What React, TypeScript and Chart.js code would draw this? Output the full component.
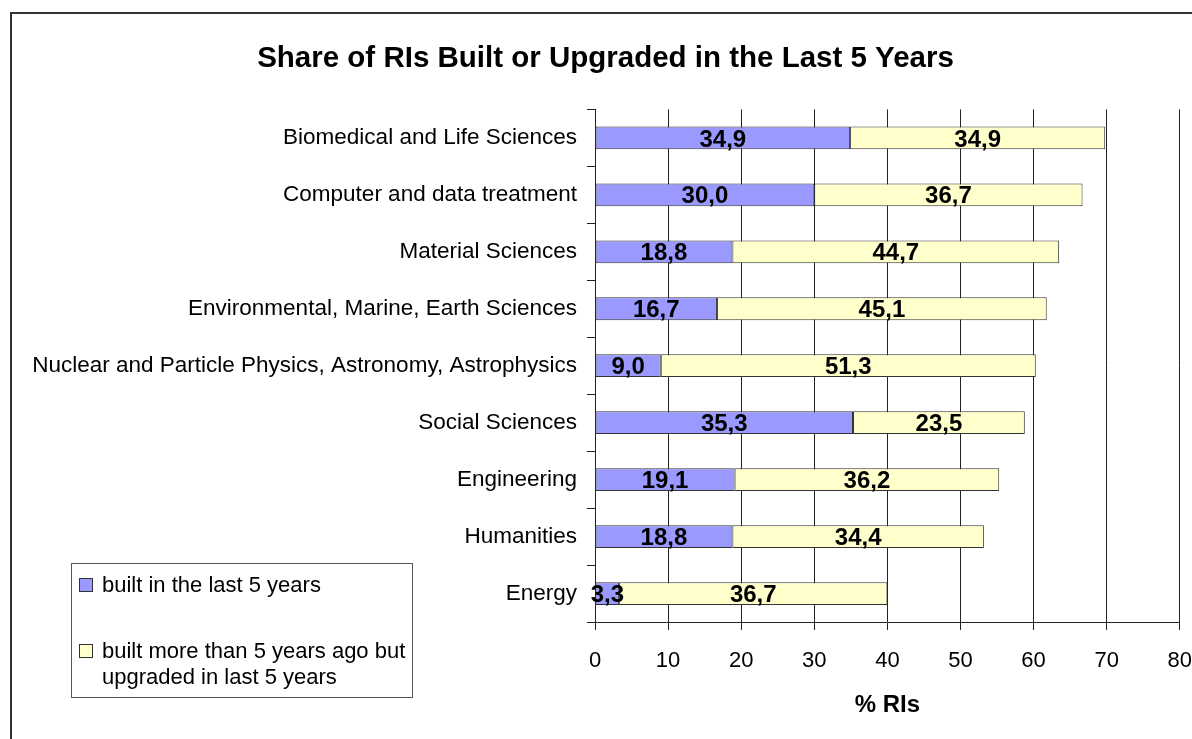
import React, { useEffect, useRef } from "react";
import { Chart, registerables } from "chart.js";

Chart.register(...registerables);

const chartTitle = "Share of RIs Built or Upgraded in the Last 5 Years";
const xAxisTitle = "% RIs";
const categories = [
  "Biomedical and Life Sciences",
  "Computer and data treatment",
  "Material Sciences",
  "Environmental, Marine, Earth Sciences",
  "Nuclear and Particle Physics, Astronomy, Astrophysics",
  "Social Sciences",
  "Engineering",
  "Humanities",
  "Energy",
];
const builtLast5 = [34.9, 30.0, 18.8, 16.7, 9.0, 35.3, 19.1, 18.8, 3.3];
const upgradedLast5 = [34.9, 36.7, 44.7, 45.1, 51.3, 23.5, 36.2, 34.4, 36.7];
const seriesNames = [
  "built in the last 5 years",
  "built more than 5 years ago but upgraded in last 5 years",
];
const legendLines = [
  ["built in the last 5 years"],
  ["built more than 5 years ago but", "upgraded in last 5 years"],
];
const xMin = 0;
const xMax = 80;
const xStep = 10;

const FONT = "'Liberation Sans', Arial, Helvetica, sans-serif";
const BLUE = "#9999FF";
const YELLOW = "#FFFFCC";
const EDGE = "#333333";

const W = 1210;
const H = 739;

const framePlugin = {
  id: "frame",
  beforeDraw(chart: any) {
    const ctx = chart.ctx;
    ctx.save();
    ctx.fillStyle = "#ffffff";
    ctx.fillRect(0, 0, chart.width, chart.height);
    ctx.strokeStyle = "#333333";
    ctx.lineWidth = 2;
    ctx.strokeRect(11, 13, chart.width + 20, chart.height + 20);
    ctx.restore();
  },
};

const valueLabelPlugin = {
  id: "valueLabels",
  afterDatasetsDraw(chart: any) {
    const ctx = chart.ctx;
    ctx.save();
    ctx.font = `bold 24px ${FONT}`;
    ctx.fillStyle = "#000";
    ctx.textAlign = "center";
    ctx.textBaseline = "middle";
    chart.data.datasets.forEach((ds: any, di: number) => {
      const meta = chart.getDatasetMeta(di);
      meta.data.forEach((bar: any, i: number) => {
        const v = ds.data[i];
        const cx = (bar.x + bar.base) / 2;
        ctx.fillText(v.toFixed(1).replace(".", ","), cx, bar.y + 2);
      });
    });
    ctx.restore();
  },
};

const legendBoxPlugin = {
  id: "legendBox",
  afterDraw(chart: any) {
    const ctx = chart.ctx;
    ctx.save();
    ctx.strokeStyle = "#555555";
    ctx.lineWidth = 1;
    ctx.strokeRect(71.5, 563.5, 341, 134);
    const colors = [BLUE, YELLOW];
    const firstY = [585, 651];
    ctx.font = `22px ${FONT}`;
    ctx.fillStyle = "#000";
    ctx.textAlign = "left";
    ctx.textBaseline = "middle";
    legendLines.forEach((lines, i) => {
      const y = firstY[i];
      ctx.fillStyle = colors[i];
      ctx.fillRect(79.5, y - 6.5, 13, 13);
      ctx.strokeStyle = EDGE;
      ctx.strokeRect(79.5, y - 6.5, 13, 13);
      ctx.fillStyle = "#000";
      lines.forEach((t, j) => {
        ctx.fillText(t, 102, y + 1 + j * 26);
      });
    });
    ctx.restore();
  },
};

export default function App() {
  const ref = useRef<HTMLCanvasElement | null>(null);

  useEffect(() => {
    if (!ref.current) return;
    Chart.defaults.font.family = FONT;
    Chart.defaults.color = "#000";
    const chart = new Chart(ref.current, {
      type: "bar",
      data: {
        labels: categories,
        datasets: [
          {
            label: seriesNames[0],
            data: builtLast5,
            backgroundColor: BLUE,
            borderColor: EDGE,
            borderWidth: 1,
            borderSkipped: false,
            barPercentage: 0.4,
            categoryPercentage: 1,
          },
          {
            label: seriesNames[1],
            data: upgradedLast5,
            backgroundColor: YELLOW,
            borderColor: EDGE,
            borderWidth: 1,
            borderSkipped: false,
            barPercentage: 0.4,
            categoryPercentage: 1,
          },
        ],
      },
      options: {
        indexAxis: "y",
        responsive: false,
        animation: false,
        devicePixelRatio: 1,
        layout: { padding: { left: 30, right: W - 1181, top: 0, bottom: 0 } },
        plugins: {
          legend: { display: false },
          tooltip: { enabled: false },
          title: {
            display: true,
            text: chartTitle,
            color: "#000",
            font: { size: 29.5, weight: "bold", family: FONT },
            padding: { top: 41, bottom: 33 },
          },
        },
        scales: {
          x: {
            stacked: true,
            min: xMin,
            max: xMax,
            ticks: {
              stepSize: xStep,
              color: "#000",
              font: { size: 22, family: FONT },
              padding: 18,
              maxRotation: 0,
            },
            grid: {
              color: "#222",
              lineWidth: 1,
              drawTicks: true,
              tickLength: 8,
              tickColor: "#222",
            },
            border: { display: true, color: "#222", width: 1 },
            title: {
              display: true,
              text: xAxisTitle,
              color: "#000",
              font: { size: 24, weight: "bold", family: FONT },
              padding: { top: 0, bottom: 19 },
            },
            afterFit(scale: any) {
              scale.height = H - 622;
            },
          },
          y: {
            stacked: true,
            ticks: {
              color: "#000",
              font: { size: 22.5, family: FONT },
              padding: 10,
            },
            grid: {
              offset: true,
              drawOnChartArea: false,
              drawTicks: true,
              tickLength: 8,
              color: "#222",
              tickColor: "#222",
            },
            border: { display: true, color: "#222", width: 1 },
            afterFit(scale: any) {
              scale.width = 565;
            },
          },
        },
      },
      plugins: [framePlugin, valueLabelPlugin, legendBoxPlugin],
    } as any);
    return () => chart.destroy();
  }, []);

  return (
    <div
      style={{
        position: "absolute",
        left: 0,
        top: 0,
        width: 1192,
        height: H,
        overflow: "hidden",
        background: "#fff",
      }}
    >
      <canvas ref={ref} width={W} height={H} style={{ display: "block", width: W, height: H }} />
    </div>
  );
}
